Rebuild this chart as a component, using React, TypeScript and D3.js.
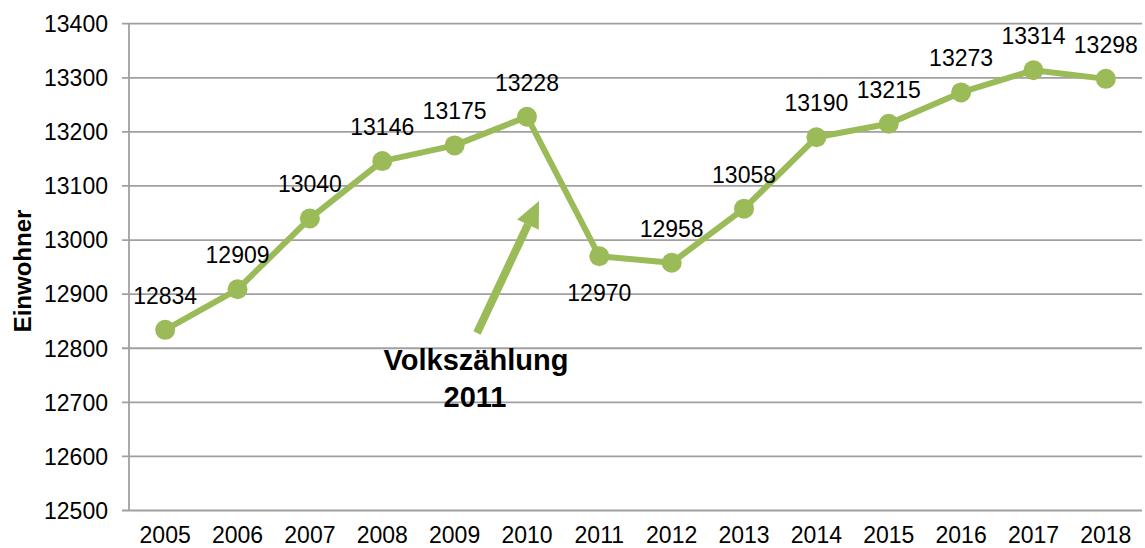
import React from 'react';
import * as d3 from 'd3';

const years = ['2005', '2006', '2007', '2008', '2009', '2010', '2011', '2012', '2013', '2014', '2015', '2016', '2017', '2018'];
const einwohner = [12834, 12909, 13040, 13146, 13175, 13228, 12970, 12958, 13058, 13190, 13215, 13273, 13314, 13298];
const yTicks = [12500, 12600, 12700, 12800, 12900, 13000, 13100, 13200, 13300, 13400];
// labels that sit under the point instead of above it
const labelBelow = ['2011'];

const W = 1145;
const H = 548;
const GREEN = '#9bbb59';
const GRID = '#a0a0a0';
const FONT = 'Liberation Sans, Arial, sans-serif';

export default function App() {
  const x = d3.scaleBand().domain(years).range([129, 1142]);
  const y = d3.scaleLinear().domain([12500, 13400]).range([510.5, 23.7]);
  const cx = (d: string) => (x(d) as number) + x.bandwidth() / 2;

  const pts = years.map((yr, i) => ({ yr, v: einwohner[i] }));
  const path = d3.line<{ yr: string; v: number }>()
    .x(d => cx(d.yr))
    .y(d => y(d.v))(pts);

  // annotation arrow
  const a0 = [477, 333];
  const tip = [539, 201];
  const ang = Math.atan2(tip[1] - a0[1], tip[0] - a0[0]);
  const headLen = 26;
  const headW = 12;
  const bx = tip[0] - headLen * Math.cos(ang);
  const by = tip[1] - headLen * Math.sin(ang);
  const px = -Math.sin(ang);
  const py = Math.cos(ang);
  const head = `M${tip[0]},${tip[1]} L${bx + headW * px},${by + headW * py} L${bx - headW * px},${by - headW * py} Z`;

  return (
    <svg width={W} height={H} style={{ position: 'absolute', left: 0, top: 0, background: '#fff' }} fontFamily={FONT}>
      {yTicks.map(t => (
        <g key={t}>
          <line x1={122} x2={1142} y1={y(t)} y2={y(t)} stroke={GRID} strokeWidth={1.8} />
          <text x={108} y={y(t)} dy="0.36em" textAnchor="end" fontSize={23} fill="#000">{t}</text>
        </g>
      ))}
      <line x1={129} x2={129} y1={y(13400)} y2={y(12500)} stroke={GRID} strokeWidth={1.8} />
      {years.map(yr => (
        <text key={yr} x={cx(yr)} y={543} textAnchor="middle" fontSize={23} fill="#000">{yr}</text>
      ))}
      <text transform="translate(31,271) rotate(-90)" textAnchor="middle" fontSize={24} fontWeight="bold" fill="#000">Einwohner</text>

      <path d={path || ''} fill="none" stroke={GREEN} strokeWidth={6} strokeLinejoin="round" />
      {pts.map(p => (
        <circle key={p.yr} cx={cx(p.yr)} cy={y(p.v)} r={10} fill={GREEN} />
      ))}
      {pts.map(p => (
        <text key={'l' + p.yr} x={cx(p.yr)} y={y(p.v) + (labelBelow.includes(p.yr) ? 45 : -26)}
          textAnchor="middle" fontSize={23} fill="#000">{p.v}</text>
      ))}

      <line x1={a0[0]} y1={a0[1]} x2={bx} y2={by} stroke={GREEN} strokeWidth={8} />
      <path d={head} fill={GREEN} />
      <text x={476} y={370} textAnchor="middle" fontSize={29} fontWeight="bold" fill="#000">Volkszählung</text>
      <text x={475} y={407} textAnchor="middle" fontSize={29} fontWeight="bold" fill="#000">2011</text>
    </svg>
  );
}
